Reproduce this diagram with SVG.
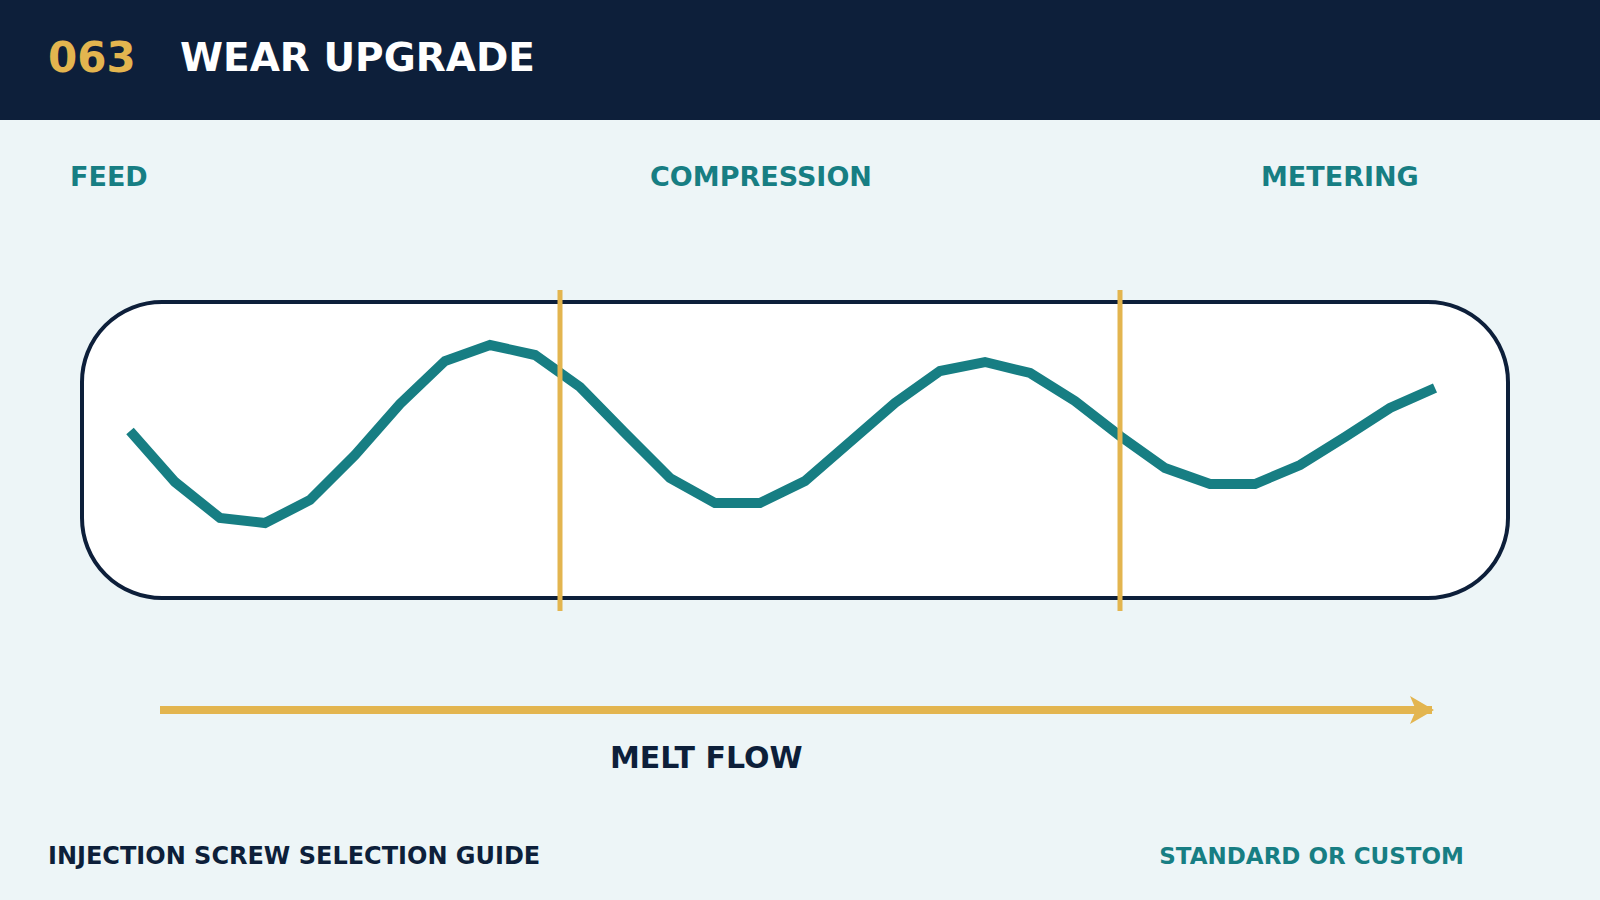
<svg xmlns="http://www.w3.org/2000/svg" width="1600" height="900" viewBox="0 0 1600 900">
  <style>
    text { font-family: "DejaVu Sans", "Liberation Sans", sans-serif; font-weight: bold; }
    .zone { fill: #177E83; font-size: 27px; }
    .foot { font-size: 24px; }
  </style>
  <defs>
    <marker id="arrowhead" markerUnits="userSpaceOnUse" markerWidth="26" markerHeight="30" refX="22" refY="15" orient="auto">
      <path d="M0,1 L24,15 L0,29 L6,15 Z" fill="#E3B54F"/>
    </marker>
  </defs>
  <rect x="0" y="0" width="1600" height="900" fill="#EDF5F7"/>
  <g id="header">
    <rect x="0" y="0" width="1600" height="120" fill="#0D1F3A"/>
    <text x="48" y="72" font-size="42" fill="#E3B54F">063</text>
    <text x="180" y="71" font-size="39" fill="#FFFFFF">WEAR UPGRADE</text>
  </g>
  <g id="zone-labels">
    <text class="zone" x="70" y="186">FEED</text>
    <text class="zone" x="650" y="186">COMPRESSION</text>
    <text class="zone" x="1261" y="186">METERING</text>
  </g>
  <g id="barrel">
    <rect x="82" y="302" width="1426" height="296" rx="80" ry="80" fill="#FFFFFF" stroke="#0D1F3A" stroke-width="4"/>
  </g>
  <g id="screw">
    <polyline fill="none" stroke="#177E83" stroke-width="10" stroke-linejoin="miter" points="130,431 175,482 220,518 265,523 310,500 355,455 400,404 445,361 490,345 535,355 580,387 625,433 670,478 715,503 760,503 805,481 850,442 895,403 940,371 985,362 1030,373 1075,401 1120,436 1165,468 1210,484 1255,484 1300,465 1345,437 1390,408 1435,388"/>
  </g>
  <g id="dividers">
    <line x1="560" y1="290" x2="560" y2="611" stroke="#E3B54F" stroke-width="5"/>
    <line x1="1120" y1="290" x2="1120" y2="611" stroke="#E3B54F" stroke-width="5"/>
  </g>
  <g id="connectors">
    <line x1="160" y1="710" x2="1432" y2="710" stroke="#E3B54F" stroke-width="8" marker-end="url(#arrowhead)"/>
  </g>
  <g id="flow-label">
    <text x="610" y="768" font-size="30" fill="#0D1F3A">MELT FLOW</text>
  </g>
  <g id="footer">
    <text class="foot" x="48" y="864" fill="#0D1F3A">INJECTION SCREW SELECTION GUIDE</text>
    <text x="1464" y="864" font-size="23" text-anchor="end" fill="#177E83">STANDARD OR CUSTOM</text>
  </g>
</svg>
